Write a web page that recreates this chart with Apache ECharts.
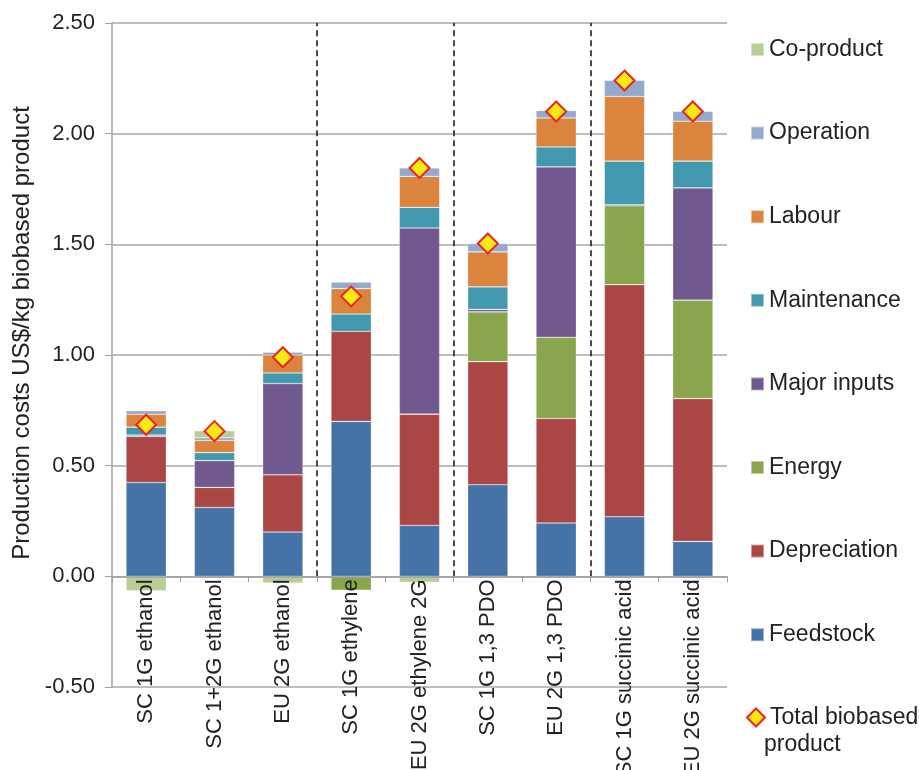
<!DOCTYPE html>
<html>
<head>
<meta charset="utf-8">
<script src="https://cdn.jsdelivr.net/npm/echarts@6/dist/echarts.min.js"></script>
<style>
  html, body { margin: 0; padding: 0; background: #fff; }
  #chart { width: 919px; height: 770px; }
</style>
</head>
<body>
<div id="chart"></div>
<script>
// categories and cost components (US$/kg)
const categories = ['SC 1G ethanol', 'SC 1+2G ethanol', 'EU 2G ethanol', 'SC 1G ethylene', 'EU 2G ethylene 2G',
  'SC 1G 1,3 PDO', 'EU 2G 1,3 PDO', 'SC 1G succinic acid', 'EU 2G succinic acid']
const feedstock = [0.424, 0.311, 0.200, 0.700, 0.230, 0.414, 0.241, 0.269, 0.158]
const depreciation = [0.208, 0.091, 0.259, 0.407, 0.503, 0.556, 0.472, 1.049, 0.645]
const energy = [0, 0, 0, -0.063, 0, 0.225, 0.367, 0.356, 0.445]
const majorInputs = [0.006, 0.121, 0.412, 0, 0.841, 0.011, 0.770, 0.005, 0.507]
const maintenance = [0.036, 0.036, 0.048, 0.078, 0.093, 0.102, 0.090, 0.197, 0.121]
const labour = [0.058, 0.055, 0.081, 0.115, 0.140, 0.158, 0.131, 0.292, 0.180]
const operation = [0.016, 0.012, 0.013, 0.030, 0.038, 0.038, 0.034, 0.074, 0.046]
const coProduct = [-0.065, 0.032, -0.030, 0, -0.027, 0, 0, 0, 0]
const total = [0.685, 0.656, 0.990, 1.265, 1.845, 1.504, 2.100, 2.240, 2.100]
const separators = [3, 5, 7]

const yMin = -0.5
const yMax = 2.5
const gridTop = 23
const gridBottom = 83
const plotHeight = 770 - gridTop - gridBottom
// lift the category axis from the grid bottom up to the zero line
const zeroOffset = -plotHeight * (0 - yMin) / (yMax - yMin)

const chart = echarts.init(document.getElementById('chart'))
const font = 'Liberation Sans, Arial, sans-serif'

function stackBar (name, data, color) {
  return {
    name: name,
    type: 'bar',
    stack: 'cost',
    barWidth: '59%',
    data: data,
    itemStyle: { color: color, borderColor: 'rgba(255,255,255,0.45)', borderWidth: 0.6 }
  }
}

chart.setOption({
  animation: false,
  textStyle: { fontFamily: font },
  grid: { left: 112, right: 192, top: gridTop, bottom: gridBottom, outerBoundsMode: 'none', containLabel: false },
  legend: [
    {
      orient: 'vertical',
      left: 745,
      top: 33,
      itemWidth: 13,
      itemHeight: 13,
      itemGap: 60.6,
      icon: 'rect',
      textStyle: { fontSize: 23, color: '#222', fontFamily: font },
      data: ['Co-product', 'Operation', 'Labour', 'Maintenance', 'Major inputs', 'Energy', 'Depreciation', 'Feedstock']
    },
    {
      orient: 'vertical',
      left: 741,
      top: 701,
      itemWidth: 18,
      itemHeight: 18,
      textStyle: { fontSize: 23, color: '#222', fontFamily: font },
      data: ['Total biobased product'],
      formatter: function () { return 'Total biobased' }
    }
  ],
  graphic: [
    {
      type: 'text',
      left: 764,
      top: 733,
      style: { text: 'product', fontSize: 23, fill: '#222', fontFamily: font }
    }
  ],
  xAxis: [
    {
      type: 'category',
      data: categories,
      position: 'bottom',
      offset: zeroOffset,
      z: 10,
      axisLine: { onZero: false, lineStyle: { color: '#a0a0a0', width: 1.5 } },
      axisTick: { show: true, length: 6, inside: false, lineStyle: { color: '#a0a0a0' } },
      axisLabel: { rotate: 90, fontSize: 22, color: '#222', margin: 3, interval: 0 }
    },
    {
      type: 'value',
      min: 0,
      max: 9,
      show: false
    }
  ],
  yAxis: {
    type: 'value',
    min: yMin,
    max: yMax,
    interval: 0.5,
    name: 'Production costs US$/kg biobased product',
    nameLocation: 'middle',
    nameGap: 78,
    nameTextStyle: { fontSize: 24, color: '#222', padding: [0, 0, 0, 44] },
    axisLine: { show: true, lineStyle: { color: '#a0a0a0', width: 1.5 } },
    axisTick: { show: true, length: 7, lineStyle: { color: '#a0a0a0' } },
    axisLabel: { fontSize: 22, color: '#222', margin: 17, formatter: v => v.toFixed(2) },
    splitLine: { lineStyle: { color: '#a8a8a8', width: 1.5 } }
  },
  series: [
    stackBar('Feedstock', feedstock, '#4573a7'),
    stackBar('Depreciation', depreciation, '#aa4643'),
    stackBar('Energy', energy, '#89a54e'),
    stackBar('Major inputs', majorInputs, '#71588f'),
    stackBar('Maintenance', maintenance, '#4198af'),
    stackBar('Labour', labour, '#db843d'),
    stackBar('Operation', operation, '#93a9cf'),
    stackBar('Co-product', coProduct, '#b9cd96'),
    {
      name: 'Total biobased product',
      type: 'scatter',
      symbol: 'diamond',
      symbolSize: 20,
      z: 5,
      data: total,
      itemStyle: { color: '#f5ea14', borderColor: '#ee2222', borderWidth: 2, opacity: 1 }
    },
    {
      // dashed group separators
      type: 'scatter',
      xAxisIndex: 1,
      data: [],
      silent: true,
      markLine: {
        symbol: 'none',
        silent: true,
        label: { show: false },
        lineStyle: { color: '#111', type: [6, 4], width: 1.5 },
        data: separators.map(s => [{ coord: [s, 0] }, { coord: [s, 2.5] }])
      }
    }
  ]
})
</script>
</body>
</html>
